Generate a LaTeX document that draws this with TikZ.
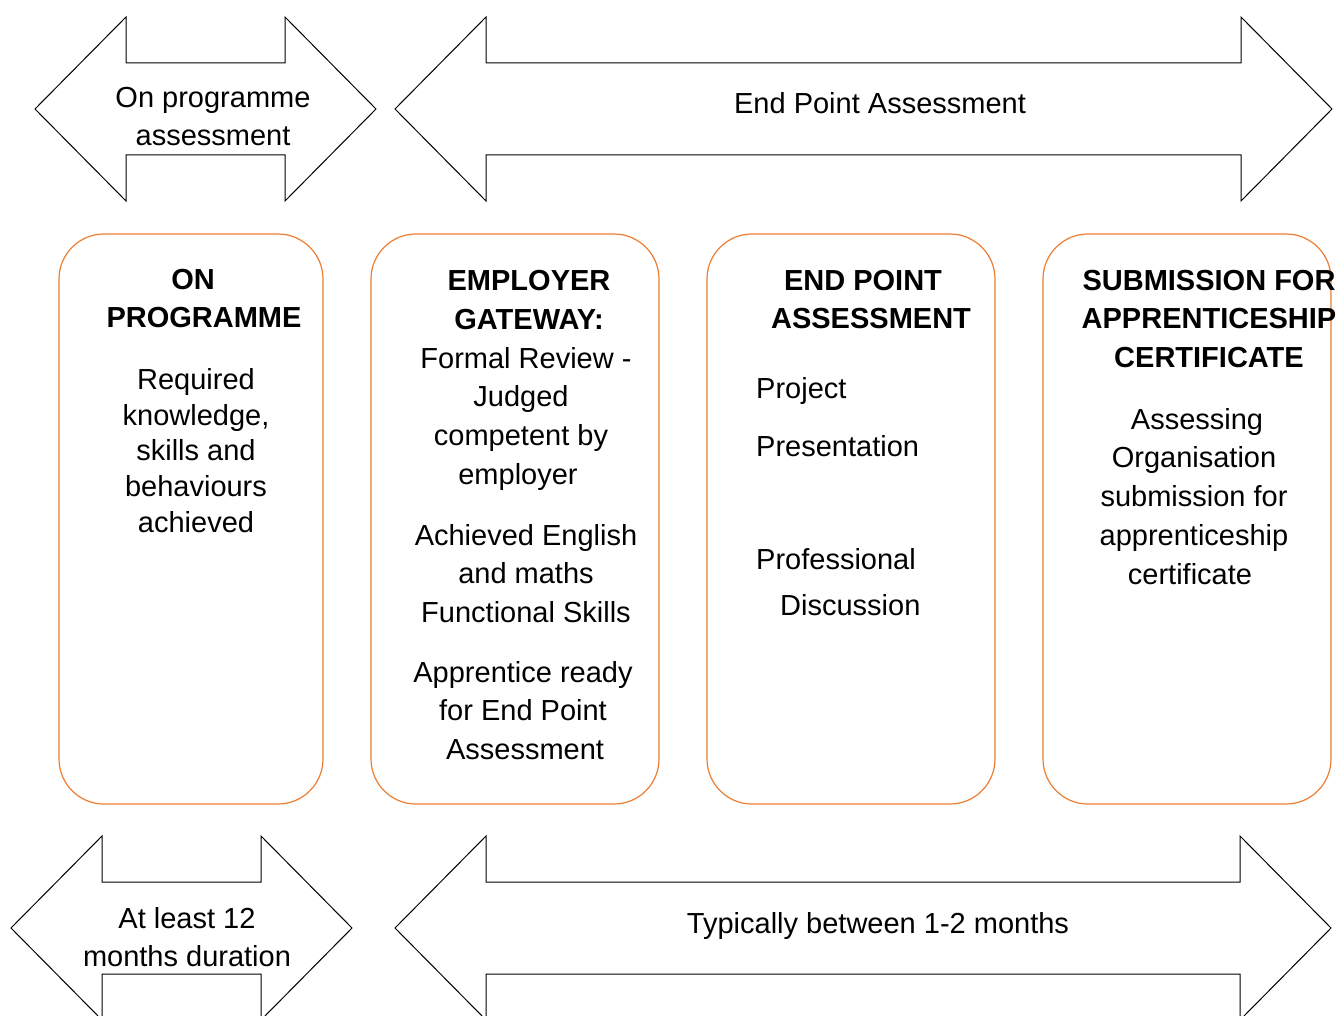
\documentclass[tikz,border=0pt]{standalone}
\usepackage{fontspec}
\setmainfont{Liberation Sans}
\definecolor{stageorange}{HTML}{ED7D31}
\newcommand{\spanarrow}[3]{%
  \draw[line width=1pt] (#1,#3) -- ++(91,-92) -- ++(0,46) -- (#2-91,#3-46) -- ++(0,-46) -- (#2,#3)
    -- ++(-91,92) -- ++(0,-46) -- (#1+91,#3+46) -- ++(0,46) -- cycle;}

\begin{document}
\begin{tikzpicture}[x=1pt,y=-1pt,
  stage/.style={draw=stageorange,line width=1.2pt,rounded corners=45pt,minimum width=288pt,minimum height=570pt},
  lbl/.style={inner sep=0pt,align=center,anchor=north,font=\fontsize{29}{38}\selectfont},
  head/.style={lbl,font=\fontsize{29}{38.5}\selectfont\bfseries}]
\useasboundingbox (0,0) rectangle (1341,1016);

\spanarrow{35}{376}{109}
\spanarrow{395}{1332}{109}
\spanarrow{11}{352}{928}
\spanarrow{395}{1331}{928}
\node[lbl] (onassess) at (213,87) {On programme\\assessment};
\node[lbl] (epassess) at (880,92) {End Point Assessment};
\node[lbl] (atleast) at (187,907) {At least 12\\months duration};
\node[lbl] (typical) at (878,912) {Typically between 1-2 months};

\node[stage,minimum width=264pt] (onprog) at (191,519) {};
\node[stage] (gateway) at (515,519) {};
\node[stage] (epa) at (851,519) {};
\node[stage] (submit) at (1187,519) {};

\node[head] (onprogtitle) at (204,269) {ON\hspace*{22pt}\\PROGRAMME};
\node[lbl,font=\fontsize{29}{35.8}\selectfont] (onprogtext) at (196,368) {Required\\knowledge,\\skills and\\behaviours\\achieved};

\node[head,font=\fontsize{29}{39}\selectfont\bfseries] (gatetitle) at (529,270) {EMPLOYER\\GATEWAY:};
\node[lbl,font=\fontsize{29}{38.7}\selectfont] (gatereview) at (521,347) {\hspace*{10pt}Formal Review -\\Judged\\competent by\\employer\hspace*{6pt}};
\node[lbl,font=\fontsize{29}{38.5}\selectfont] (gateskills) at (526,524) {Achieved English\\and maths\hspace*{12pt}\\Functional Skills};
\node[lbl,font=\fontsize{29}{38.5}\selectfont] (gateready) at (523,661) {Apprentice ready\\for End Point\\\hspace*{4pt}Assessment};

\node[head,font=\fontsize{29}{38}\selectfont\bfseries] (epatitle) at (871,270) {END POINT\hspace*{16pt}\\ASSESSMENT};
\node[lbl,anchor=north west] (project) at (756,377) {Project};
\node[lbl,anchor=north west] (presentation) at (756,435) {Presentation};
\node[lbl,anchor=north west] (professional) at (756,548) {Professional};
\node[lbl,anchor=north west] (discussion) at (780,594) {Discussion};

\node[head] (submittitle) at (1209,270) {SUBMISSION FOR\\APPRENTICESHIP\\CERTIFICATE};
\node[lbl,font=\fontsize{29}{38.75}\selectfont] (submittext) at (1194,408) {\hspace*{6pt}Assessing\\Organisation\\submission for\\apprenticeship\\certificate\hspace*{8pt}};
\end{tikzpicture}
\end{document}
